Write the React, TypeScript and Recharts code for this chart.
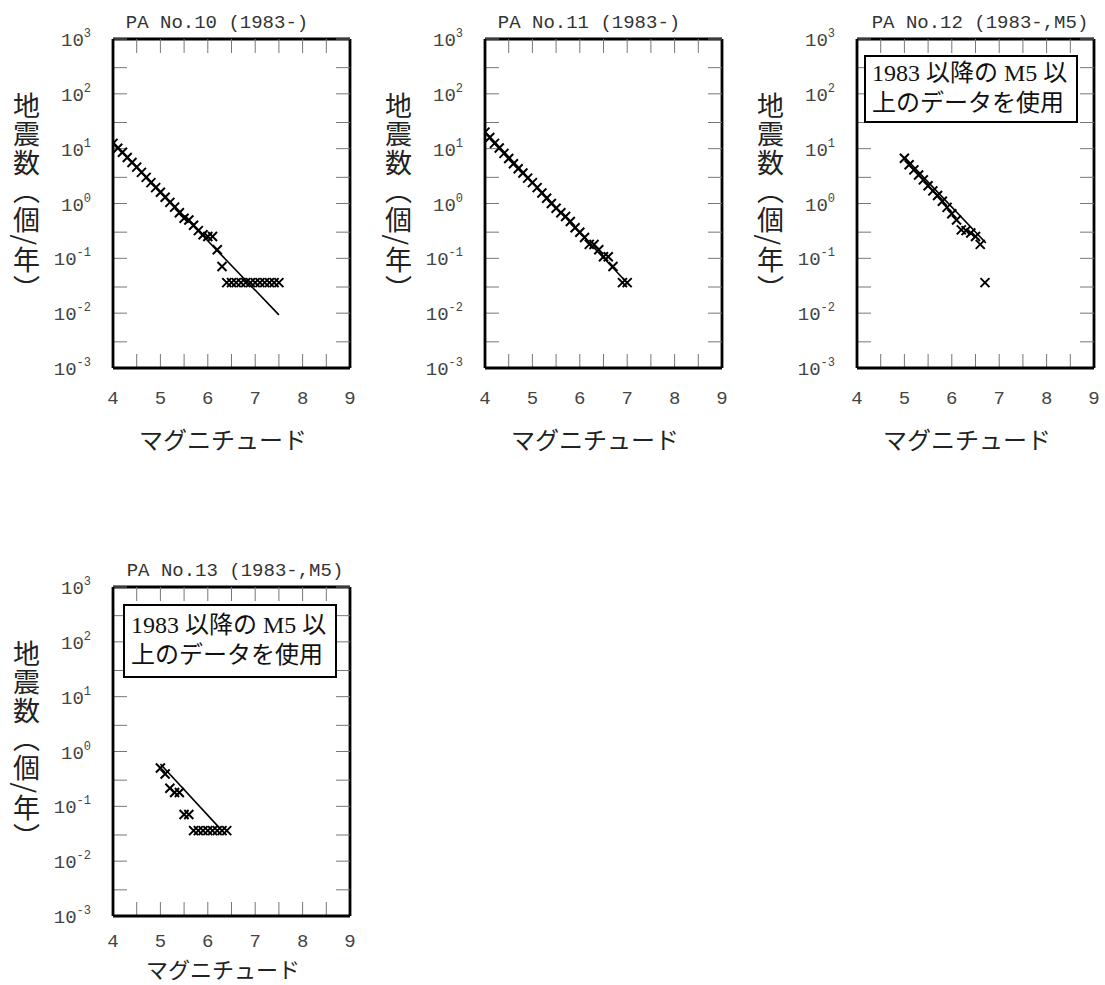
import React from 'react';
import { ScatterChart, Scatter, XAxis, YAxis } from 'recharts';

// axis ticks
const MAG_TICKS = [4, 5, 6, 7, 8, 9];
const MAG_MINOR = [4.5, 5, 5.5, 6, 6.5, 7, 7.5, 8, 8.5];
const RATE_TICKS = [0.001, 0.01, 0.1, 1, 10, 100, 1000];
const RATE_STEPS = [1, 2, 3, 4, 5, 6, 7, 8, 9];
const RATE_MINOR = [...RATE_TICKS.slice(0, -1).flatMap((d) => RATE_STEPS.map((k) => k * d)), 1000];

const TITLES = ['PA No.10 (1983-)', 'PA No.11 (1983-)', 'PA No.12 (1983-,M5)', 'PA No.13 (1983-,M5)'];
const X_LABEL = 'マグニチュード';
const Y_LABEL = '地震数（個/年）';
const NOTE = ['1983 以降の M5 以', '上のデータを使用'];

// PA No.10
const mag10 = [4.0, 4.1, 4.2, 4.3, 4.4, 4.5, 4.6, 4.7, 4.8, 4.9, 5.0, 5.1, 5.2, 5.3, 5.4, 5.5, 5.6, 5.7, 5.8, 5.9,
  6.0, 6.1, 6.2, 6.3, 6.4, 6.5, 6.6, 6.7, 6.8, 6.9, 7.0, 7.1, 7.2, 7.3, 7.4, 7.5];
const rate10 = [12.5, 10.2, 8.6, 6.9, 5.6, 4.6, 3.7, 3.0, 2.4, 1.95, 1.6, 1.3, 1.05, 0.86, 0.68, 0.54, 0.5, 0.4, 0.32, 0.27,
  0.25, 0.25, 0.143, 0.071, 0.036, 0.036, 0.036, 0.036, 0.036, 0.036, 0.036, 0.036, 0.036, 0.036, 0.036, 0.036];
const fitMag10 = [4.0, 7.5];
const fitRate10 = [13.2, 0.0093];

// PA No.11
const mag11 = [4.0, 4.1, 4.2, 4.3, 4.4, 4.5, 4.6, 4.7, 4.8, 4.9, 5.0, 5.1, 5.2, 5.3, 5.4, 5.5, 5.6, 5.7, 5.8, 5.9,
  6.0, 6.1, 6.2, 6.3, 6.4, 6.5, 6.6, 6.7, 6.9, 7.0];
const rate11 = [20, 16, 12.5, 10.3, 8.2, 6.6, 5.3, 4.3, 3.6, 2.9, 2.4, 1.95, 1.55, 1.25, 1.0, 0.82, 0.68, 0.58, 0.47, 0.36,
  0.3, 0.24, 0.18, 0.179, 0.143, 0.107, 0.107, 0.071, 0.036, 0.036];
const fitMag11 = [4.0, 7.05];
const fitRate11 = [20.4, 0.032];

// PA No.12
const mag12 = [5.0, 5.1, 5.2, 5.3, 5.4, 5.5, 5.6, 5.7, 5.8, 5.9, 6.0, 6.1, 6.2, 6.3, 6.4, 6.5, 6.6, 6.7];
const rate12 = [6.7, 5.1, 4.1, 3.3, 2.7, 2.1, 1.7, 1.4, 1.1, 0.85, 0.65, 0.5, 0.33, 0.32, 0.29, 0.25, 0.18, 0.036];
const fitMag12 = [5.0, 6.72];
const fitRate12 = [7.0, 0.19];

// PA No.13
const mag13 = [5.0, 5.1, 5.2, 5.3, 5.4, 5.5, 5.6, 5.7, 5.8, 5.9, 6.0, 6.1, 6.2, 6.3, 6.4];
const rate13 = [0.5, 0.39, 0.214, 0.179, 0.179, 0.071, 0.071, 0.036, 0.036, 0.036, 0.036, 0.036, 0.036, 0.036, 0.036];
const fitMag13 = [5.0, 6.25];
const fitRate13 = [0.59, 0.04];

const zip = (m: number[], r: number[]) => m.map((v, i) => ({ m: v, r: r[i] }));

const panels = [
  { title: TITLES[0], pts: zip(mag10, rate10), fit: zip(fitMag10, fitRate10), left: 0, top: 0, titleX: 217, note: false, xLabTop: 427, tickDy: 36 },
  { title: TITLES[1], pts: zip(mag11, rate11), fit: zip(fitMag11, fitRate11), left: 372, top: 0, titleX: 217, note: false, xLabTop: 427, tickDy: 36 },
  { title: TITLES[2], pts: zip(mag12, rate12), fit: zip(fitMag12, fitRate12), left: 744, top: 0, titleX: 236, note: true, xLabTop: 427, tickDy: 36 },
  { title: TITLES[3], pts: zip(mag13, rate13), fit: zip(fitMag13, fitRate13), left: 0, top: 548, titleX: 235, note: true, xLabTop: 408, tickDy: 31 },
];

const Cross = (props: any) => {
  const { cx, cy } = props;
  if (cx == null || cy == null) return <g />;
  const s = 4.5;
  return (
    <path
      d={`M${cx - s},${cy - s}L${cx + s},${cy + s}M${cx - s},${cy + s}L${cx + s},${cy - s}`}
      stroke="#000"
      strokeWidth={2}
      fill="none"
    />
  );
};

const RateTick = ({ x, y, payload }: any) => {
  const e = Math.round(Math.log10(payload.value));
  return (
    <text x={x - 22} y={y + 7} textAnchor="end" fontFamily="'Liberation Mono', monospace" fontSize={19} fill="#444">
      10
      <tspan dy={-9} fontSize={12}>{e}</tspan>
    </text>
  );
};

const MagTick = ({ x, y, payload, dyOff }: any) => (
  <text x={x} y={y + dyOff} textAnchor="middle" fontFamily="'Liberation Mono', monospace" fontSize={19} fill="#444">
    {payload.value}
  </text>
);

const NoTick = () => <g />;

const frame = { stroke: '#000', strokeWidth: 2.8 };
const minorLine = { stroke: '#777', strokeWidth: 1 };

const Panel = ({ p }: { p: (typeof panels)[number] }) => (
  <div style={{ position: 'absolute', left: p.left, top: p.top, width: 370, height: 437 }}>
    <ScatterChart width={370} height={420} margin={{ top: 39, right: 20, bottom: 12, left: 53 }}>
      <XAxis xAxisId="bm" dataKey="m" type="number" domain={[4, 9]} ticks={MAG_MINOR} orientation="bottom" mirror
        tick={NoTick} tickSize={14} tickLine={minorLine} axisLine={false} allowDataOverflow />
      <XAxis xAxisId="t" dataKey="m" type="number" domain={[4, 9]} ticks={MAG_MINOR} orientation="top" mirror
        tick={NoTick} tickSize={14} tickLine={minorLine} axisLine={frame} allowDataOverflow />
      <YAxis yAxisId="lm" dataKey="r" type="number" scale="log" domain={[0.001, 1000]} ticks={RATE_MINOR} mirror
        tick={NoTick} tickSize={14} tickLine={minorLine} axisLine={false} allowDataOverflow />
      <YAxis yAxisId="rm" dataKey="r" type="number" scale="log" domain={[0.001, 1000]} ticks={RATE_MINOR} orientation="right" mirror
        tick={NoTick} tickSize={14} tickLine={minorLine} axisLine={frame} allowDataOverflow />
      <XAxis xAxisId="b" dataKey="m" type="number" domain={[4, 9]} ticks={MAG_TICKS} orientation="bottom" height={40}
        tickLine={false} tickSize={0} tickMargin={0} axisLine={frame} tick={<MagTick dyOff={p.tickDy} />} allowDataOverflow />
      <YAxis yAxisId="l" dataKey="r" type="number" scale="log" domain={[0.001, 1000]} ticks={RATE_TICKS} width={60}
        tickLine={false} tickSize={0} tickMargin={0} axisLine={frame} tick={<RateTick />} allowDataOverflow />
      <Scatter xAxisId="b" yAxisId="l" data={p.fit} line={{ stroke: '#000', strokeWidth: 1.6 }} shape={() => <g />}
        isAnimationActive={false} />
      <Scatter xAxisId="b" yAxisId="l" data={p.pts} shape={<Cross />} isAnimationActive={false} />
    </ScatterChart>
    <div style={{ position: 'absolute', left: p.titleX - 150, top: 11, width: 300, textAlign: 'center',
      fontFamily: "'Liberation Mono', monospace", fontSize: 19, lineHeight: '24px', color: '#333', whiteSpace: 'pre' }}>
      {p.title}
    </div>
    <div style={{ position: 'absolute', left: 11, top: 92, writingMode: 'vertical-rl', fontFamily: "'Noto Sans CJK JP'",
      fontSize: 27, lineHeight: '30px', letterSpacing: 1.5, color: '#222' }}>
      {Y_LABEL}
    </div>
    <div style={{ position: 'absolute', left: 223 - 120, top: p.xLabTop, width: 240, textAlign: 'center',
      fontFamily: "'Noto Sans CJK JP'", fontSize: p.top ? 22 : 24, lineHeight: '24px', color: '#222' }}>
      {X_LABEL}
    </div>
    {p.note && (
      <div style={{ position: 'absolute', left: p.top ? 123 : 120, top: p.top ? 56 : 55, width: 204, height: p.top ? 66 : 63,
        border: '2px solid #000', background: '#fff', boxSizing: 'content-box', padding: p.top ? '4px 0 0 6px' : '1px 0 0 6px',
        fontFamily: "'Liberation Serif', 'Noto Sans CJK JP'", fontSize: 24, lineHeight: '30px', color: '#111',
        whiteSpace: 'nowrap' }}>
        {NOTE[0]}<br />{NOTE[1]}
      </div>
    )}
  </div>
);

export default function App() {
  return (
    <div style={{ position: 'absolute', left: 0, top: 0, width: 1105, height: 985, overflow: 'hidden', background: '#fff' }}>
      {panels.map((p) => (
        <Panel key={p.title} p={p} />
      ))}
    </div>
  );
}
